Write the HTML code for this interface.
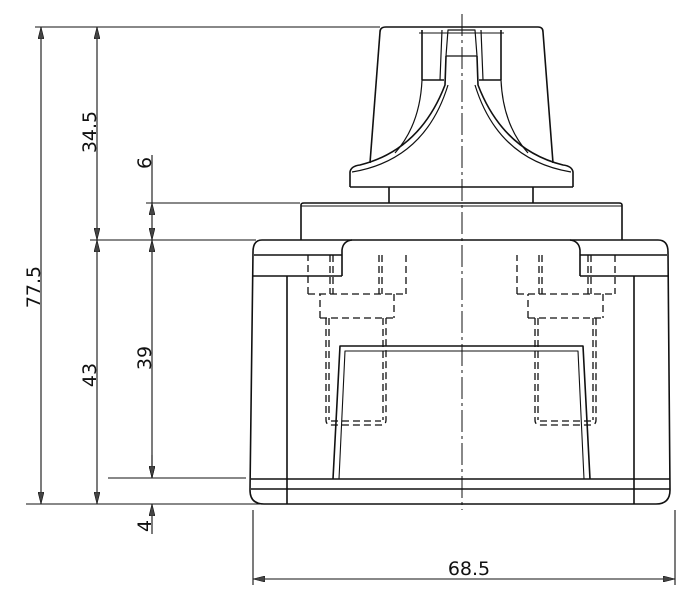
<!DOCTYPE html>
<html><head><meta charset="utf-8"><style>
html,body{margin:0;padding:0;background:#fff;}
svg{display:block;}
text{font-family:"DejaVu Sans","Liberation Sans",sans-serif;font-size:19px;fill:#111;}
</style></head><body>
<svg width="700" height="604" viewBox="0 0 700 604" xmlns="http://www.w3.org/2000/svg">
<defs>
<marker id="a" viewBox="0 0 12 6" refX="12" refY="3" markerWidth="12" markerHeight="6" orient="auto-start-reverse" markerUnits="userSpaceOnUse">
<path d="M0,0 L12,3 L0,6 z" fill="#444" stroke="#111" stroke-width="0.6"/></marker>
</defs>
<g stroke="#111" stroke-width="1.1" fill="none">
<!-- extension lines -->
<line x1="35" y1="27" x2="380" y2="27"/>
<line x1="146" y1="203" x2="300" y2="203"/>
<line x1="90" y1="240" x2="256" y2="240"/>
<line x1="108" y1="478" x2="246" y2="478"/>
<line x1="26" y1="504" x2="260" y2="504"/>
<line x1="253" y1="510" x2="253" y2="585"/>
<line x1="675" y1="510" x2="675" y2="585"/>
<!-- dimension lines -->
<line x1="41" y1="27" x2="41" y2="504" marker-start="url(#a)" marker-end="url(#a)"/>
<line x1="97" y1="27" x2="97" y2="240" marker-start="url(#a)" marker-end="url(#a)"/>
<line x1="97" y1="240" x2="97" y2="504" marker-start="url(#a)" marker-end="url(#a)"/>
<line x1="152" y1="155" x2="152" y2="203"/>
<line x1="152" y1="203" x2="152" y2="240" marker-start="url(#a)" marker-end="url(#a)"/>
<line x1="152" y1="240" x2="152" y2="478" marker-start="url(#a)" marker-end="url(#a)"/>
<line x1="152" y1="455" x2="152" y2="478" marker-end="url(#a)"/>
<line x1="152" y1="534" x2="152" y2="504" marker-end="url(#a)"/>
<line x1="253" y1="579" x2="675" y2="579" marker-start="url(#a)" marker-end="url(#a)"/>
</g>
<!-- labels -->
<text transform="translate(40,287) rotate(-90)" text-anchor="middle">77.5</text>
<text transform="translate(96,132) rotate(-90)" text-anchor="middle">34.5</text>
<text transform="translate(151,163) rotate(-90)" text-anchor="middle">6</text>
<text transform="translate(96,375) rotate(-90)" text-anchor="middle">43</text>
<text transform="translate(151,358) rotate(-90)" text-anchor="middle">39</text>
<text transform="translate(151,526) rotate(-90)" text-anchor="middle">4</text>
<text x="469" y="575" text-anchor="middle">68.5</text>

<g stroke="#111" stroke-width="1.6" fill="none" stroke-linejoin="round">
<!-- knob -->
<path d="M380,32 Q380,27 386,27 L538,27 Q543,27 543,32 L553,163"/>
<path d="M370,163 L380,32"/>
<path d="M350,187 L350,172 Q351,166 360,165 Q420,150 445,85 L446,56 M573,187 L573,172 Q572,166 563,165 Q503,150 478,85 L477,56"/>
<path d="M352,172 Q425,160 448,85 M571,172 Q498,160 475,85" stroke-width="1.2"/>
<line x1="350" y1="187" x2="573" y2="187"/>
<path d="M448,30 L446,56 L477,56 L475,30 Z" stroke-width="1.2"/>
<path d="M442,30 L440,80 M481,30 L483,80" stroke-width="1.2"/>
<line x1="422" y1="30" x2="422" y2="80"/>
<line x1="501" y1="30" x2="501" y2="80"/>
<line x1="422" y1="80" x2="444" y2="80"/>
<line x1="479" y1="80" x2="501" y2="80"/>
<path d="M422,80 Q420,125 395,153 M501,80 Q503,125 528,153" stroke-width="1.2"/>
<line x1="419" y1="33" x2="504" y2="33" stroke-width="1"/>
<!-- neck & collar -->
<path d="M389,187 L389,203 M533,187 L533,203"/>
<path d="M301,240 L301,205 Q301,203 304,203 L619,203 Q622,203 622,205 L622,240"/>
<line x1="301" y1="206" x2="622" y2="206" stroke-width="1"/>
<!-- body -->
<path d="M262,240 L658,240 Q668,240 668,252 L670,490 Q670,504 656,504 L264,504 Q250,504 250,490 L253,252 Q253,240 262,240 Z"/>
<line x1="254" y1="255" x2="342" y2="255"/>
<line x1="580" y1="255" x2="667" y2="255"/>
<path d="M342,276 L342,250 Q343,241 352,240 M580,276 L580,250 Q579,241 570,240"/>
<line x1="253" y1="276" x2="342" y2="276"/>
<line x1="580" y1="276" x2="668" y2="276"/>
<line x1="287" y1="276" x2="287" y2="504"/>
<line x1="634" y1="276" x2="634" y2="504"/>
<line x1="251" y1="479" x2="670" y2="479"/>
<line x1="251" y1="489" x2="670" y2="489"/>
<!-- inner trapezoid -->
<path d="M333,479 L340,346 L583,346 L590,479"/>
<path d="M339,479 L345,351 L578,351 L584,479" stroke-width="1.1"/>
</g>
<!-- dashed bolts -->
<g stroke="#111" stroke-width="1.3" fill="none" stroke-dasharray="7,4">
<path d="M308,294 L308,255 M406,255 L406,294 M308,294 L406,294"/>
<path d="M330,255 L330,294 M333,255 L333,294 M379,255 L379,294 M382,255 L382,294"/>
<path d="M320,318 L320,294 M394,294 L394,318 M320,318 L394,318"/>
<path d="M326,318 L326,420 Q326,425 331,425 L381,425 Q386,425 386,420 L386,318"/>
<path d="M329,318 L329,420 M383,318 L383,420 M331,421 L381,421"/>
<path d="M517,294 L517,255 M615,255 L615,294 M517,294 L615,294"/>
<path d="M539,255 L539,294 M542,255 L542,294 M588,255 L588,294 M591,255 L591,294"/>
<path d="M528,318 L528,294 M603,294 L603,318 M528,318 L603,318"/>
<path d="M535,318 L535,420 Q535,425 540,425 L591,425 Q596,425 596,420 L596,318"/>
<path d="M538,318 L538,420 M593,318 L593,420 M540,421 L591,421"/>
</g>
<!-- center line -->
<line x1="462" y1="14" x2="462" y2="510" stroke="#111" stroke-width="1" stroke-dasharray="22,4,3,4"/>
</svg>
</body></html>
